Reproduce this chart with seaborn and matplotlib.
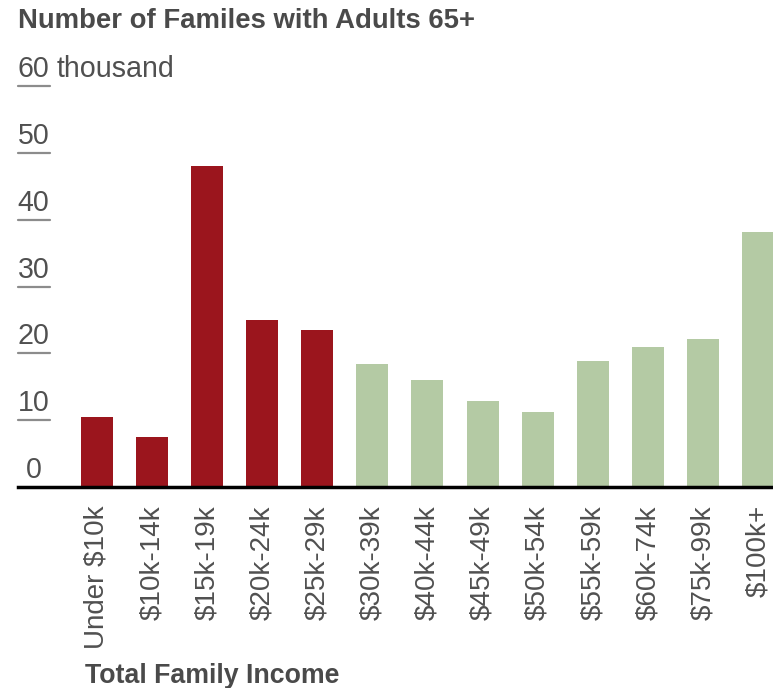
import matplotlib
matplotlib.use("Agg")
import matplotlib.pyplot as plt
import matplotlib.transforms as mtransforms
from matplotlib.lines import Line2D
import seaborn as sns
import pandas as pd

# ---- data ----
categories = ["Under $10k", "$10k-14k", "$15k-19k", "$20k-24k", "$25k-29k",
              "$30k-39k", "$40k-44k", "$45k-49k", "$50k-54k", "$55k-59k",
              "$60k-74k", "$75k-99k", "$100k+"]
values = [10.4, 7.5, 48.0, 25.0, 23.5, 18.4, 16.0, 12.9, 11.2, 18.9, 21.0, 22.2, 38.1]
groups = ["low"] * 5 + ["high"] * 8
yticks = [0, 10, 20, 30, 40, 50, 60]
title = "Number of Familes with Adults 65+"
xlabel = "Total Family Income"
unit = "thousand"

RED = "#9b151d"
GREEN = "#b4caa4"
TXT = "#505050"

sns.set_theme(style="white")
plt.rcParams["font.family"] = ["Liberation Sans", "DejaVu Sans"]

W, H = 773, 688
fig = plt.figure(figsize=(W / 100, H / 100), dpi=100)
ax_left, ax_right = 18, 773
ax_bottom, ax_top = 487, 86
ax = fig.add_axes([ax_left / W, 1 - ax_bottom / H, (ax_right - ax_left) / W, (ax_bottom - ax_top) / H])

df = pd.DataFrame({"cat": categories, "val": values, "grp": groups})
sns.barplot(data=df, x="cat", y="val", hue="grp", palette={"low": RED, "high": GREEN},
            dodge=False, width=0.58, saturation=1, legend=False, linewidth=0, ax=ax)

ax.set_xlim(-1.43, 12.27)
ax.set_ylim(0, 60)
for s in ["top", "right", "left"]:
    ax.spines[s].set_visible(False)
ax.spines["bottom"].set_color("black")
ax.spines["bottom"].set_linewidth(2.5)
ax.set_xlabel("")
ax.set_ylabel("")
ax.set_yticks([])
ax.tick_params(axis="x", length=0, pad=13)
ax.set_xticks(range(len(categories)))
ax.set_xticklabels(categories, rotation=90, fontsize=20, color=TXT, va="top", ha="center")

# y labels with short underlines
blend = mtransforms.blended_transform_factory(fig.transFigure, ax.transData)
lab_tr = mtransforms.offset_copy(blend, fig=fig, x=0, y=9, units="dots")
for v in yticks:
    ax.text(33.5 / W, v, str(v), transform=lab_tr, ha="center", va="baseline",
            fontsize=20.6, color=TXT, clip_on=False)
    if v != 0:
        ax.add_line(Line2D([18 / W, 49.5 / W], [v, v], transform=blend, color="#8c8c8c",
                           lw=1.6, clip_on=False))

fig.text(57 / W, 1 - 77 / H, unit, ha="left", va="baseline", fontsize=20.6, color=TXT)
fig.text(18 / W, 1 - 28 / H, title, ha="left", va="baseline", fontsize=19.8,
         fontweight="bold", color="#4a4a4a")
fig.text(85 / W, 1 - 683 / H, xlabel, ha="left", va="baseline", fontsize=19.3,
         fontweight="bold", color="#4a4a4a")

fig.savefig("out.png", dpi=100)
